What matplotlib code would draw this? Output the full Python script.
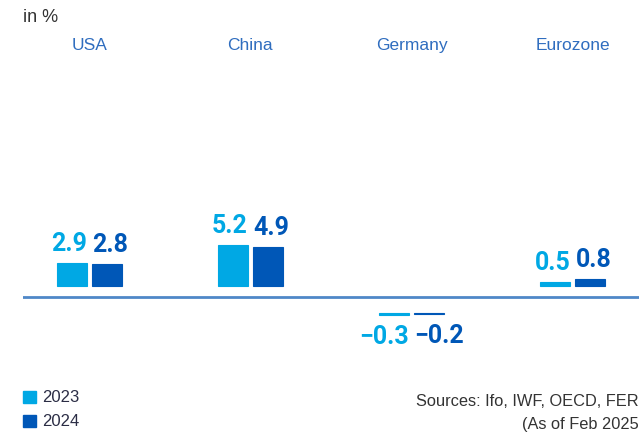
import matplotlib
matplotlib.use("Agg")
import matplotlib.pyplot as plt
import matplotlib.transforms as mtransforms
from matplotlib.patches import Rectangle

# Growth figures (in %)
countries = ["USA", "China", "Germany", "Eurozone"]
years = ["2023", "2024"]
growth_2023 = [2.9, 5.2, -0.3, 0.5]
growth_2024 = [2.8, 4.9, -0.2, 0.8]
source_lines = ["Sources: Ifo, IWF, OECD, FER", "(As of Feb 2025"]

C_2023 = "#00a8e4"
C_2024 = "#0057b7"
C_AXIS = "#4f88c8"
C_CAT = "#2f6dbf"
C_TEXT = "#333333"
C_LEG = "#2b2d45"

W, H = 639, 441
fig = plt.figure(figsize=(W / 100, H / 100), dpi=100)
left = 23 / W
ax = fig.add_axes([left, 0, 1 - left, 1])
ax.set_xlim(-0.41, 3.41)
ax.set_ylim(-18.46, 38.08)
ax.axis("off")

ax.axhline(0, color=C_AXIS, lw=2.0, zorder=1)

width = 0.185
offset = 0.1085
gap_pos = 1.45   # bars float slightly off the zero line
gap_neg = 2.0
label_font = dict(family=["Roboto", "DejaVu Sans"], weight="bold", fontsize=18)


def fmt(v):
    s = f"{abs(v):.1f}"
    return ("\u2212" + s) if v < 0 else s


# first series labels hug the right bar edge, second series the left edge
for series, color, dx, side in ((growth_2023, C_2023, -offset, "right"),
                                (growth_2024, C_2024, offset, "left")):
    for i, v in enumerate(series):
        x = i + dx
        xa = x + width / 2 if side == "right" else x - width / 2
        bar_kw = dict(width=width, color=color, edgecolor=color, linewidth=0.8, zorder=2)
        if v >= 0:
            ax.bar(x, v, bottom=gap_pos, **bar_kw)
            ax.annotate(fmt(v), (xa, gap_pos + v), xytext=(0, 7), textcoords="offset pixels",
                        ha=side, va="bottom", color=color, **label_font)
        else:
            ax.bar(x, v, bottom=-gap_neg, **bar_kw)
            ax.annotate(fmt(v), (xa, -gap_neg + v), xytext=(0, -10), textcoords="offset pixels",
                        ha=side, va="top", color=color, **label_font)

# Country headings along the top
trans = mtransforms.blended_transform_factory(ax.transData, ax.transAxes)
for i, name in enumerate(countries):
    ax.text(i, 1 - 50 / H, name, transform=trans, ha="center", va="baseline",
            color=C_CAT, fontsize=12.5, family="Liberation Sans")

fig.text(left, 1 - 17 / H, "in %", ha="left", va="center", color=C_TEXT,
         fontsize=13, family="Liberation Sans")

# Legend
for k, (yr, color) in enumerate(zip(years, (C_2023, C_2024))):
    yc = 397 + k * 24
    fig.patches.append(Rectangle((23 / W, 1 - (yc + 6) / H), 12.5 / W, 12.5 / H,
                                 transform=fig.transFigure, color=color))
    fig.text(42 / W, 1 - yc / H, yr, ha="left", va="center", color=C_LEG,
             fontsize=12, family="Liberation Sans")

# Source note
for k, line in enumerate(source_lines):
    fig.text(1.0, 1 - (401 + k * 23) / H, line, ha="right", va="center",
             color=C_TEXT, fontsize=11.8, family="Liberation Sans")

fig.savefig("out.png", dpi=100)
